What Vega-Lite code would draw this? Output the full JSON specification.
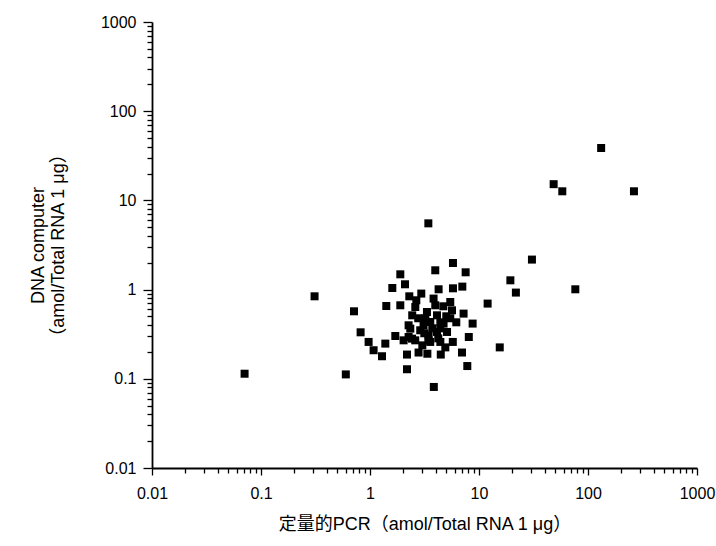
{
  "$schema": "https://vega.github.io/schema/vega-lite/v6.json",
  "autosize": {"type": "none"},
  "padding": {"left": 152, "top": 22, "right": 19, "bottom": 78},
  "width": 545,
  "height": 446,
  "background": "white",
  "config": {"view": {"stroke": null}},
  "data": {"values": [
    {"pcr": 0.0707, "dna": 0.114}, {"pcr": 0.31, "dna": 0.841}, {"pcr": 0.6, "dna": 0.112},
    {"pcr": 0.713, "dna": 0.571}, {"pcr": 0.82, "dna": 0.332}, {"pcr": 0.971, "dna": 0.259},
    {"pcr": 1.079, "dna": 0.209}, {"pcr": 1.288, "dna": 0.179}, {"pcr": 1.382, "dna": 0.248},
    {"pcr": 1.411, "dna": 0.655}, {"pcr": 1.602, "dna": 1.042}, {"pcr": 1.897, "dna": 1.484},
    {"pcr": 2.095, "dna": 1.147}, {"pcr": 3.97, "dna": 1.646}, {"pcr": 5.77, "dna": 1.987},
    {"pcr": 7.54, "dna": 1.563}, {"pcr": 7.03, "dna": 1.08}, {"pcr": 5.77, "dna": 1.034},
    {"pcr": 4.26, "dna": 1.008}, {"pcr": 2.955, "dna": 0.902}, {"pcr": 2.294, "dna": 0.841},
    {"pcr": 1.897, "dna": 0.667}, {"pcr": 2.604, "dna": 0.638}, {"pcr": 3.83, "dna": 0.793},
    {"pcr": 5.45, "dna": 0.726}, {"pcr": 5.65, "dna": 0.586}, {"pcr": 7.22, "dna": 0.538},
    {"pcr": 8.74, "dna": 0.416}, {"pcr": 3.33, "dna": 0.561}, {"pcr": 4.12, "dna": 0.515},
    {"pcr": 3.57, "dna": 0.433}, {"pcr": 4.73, "dna": 0.416}, {"pcr": 3.1, "dna": 0.398},
    {"pcr": 4.12, "dna": 0.335}, {"pcr": 5.09, "dna": 0.335}, {"pcr": 3.45, "dna": 0.307},
    {"pcr": 2.26, "dna": 0.398}, {"pcr": 2.26, "dna": 0.294}, {"pcr": 1.707, "dna": 0.302},
    {"pcr": 2.034, "dna": 0.27}, {"pcr": 2.343, "dna": 0.365}, {"pcr": 2.428, "dna": 0.282},
    {"pcr": 3.57, "dna": 0.259}, {"pcr": 4.42, "dna": 0.259}, {"pcr": 5.75, "dna": 0.259},
    {"pcr": 8.06, "dna": 0.294}, {"pcr": 2.185, "dna": 0.187}, {"pcr": 2.79, "dna": 0.197},
    {"pcr": 3.36, "dna": 0.191}, {"pcr": 4.46, "dna": 0.187}, {"pcr": 6.98, "dna": 0.197},
    {"pcr": 7.81, "dna": 0.139}, {"pcr": 2.185, "dna": 0.128}, {"pcr": 3.85, "dna": 0.081},
    {"pcr": 15.5, "dna": 0.225}, {"pcr": 12.0, "dna": 0.697}, {"pcr": 19.4, "dna": 1.271},
    {"pcr": 21.8, "dna": 0.926}, {"pcr": 30.6, "dna": 2.17}, {"pcr": 76.5, "dna": 1.008},
    {"pcr": 48.4, "dna": 15.2}, {"pcr": 58.1, "dna": 12.65}, {"pcr": 132, "dna": 38.7},
    {"pcr": 264, "dna": 12.65}, {"pcr": 3.43, "dna": 5.53},
    {"pcr": 2.77, "dna": 0.477}, {"pcr": 3.22, "dna": 0.477}, {"pcr": 3.73, "dna": 0.368},
    {"pcr": 2.89, "dna": 0.35}, {"pcr": 4.42, "dna": 0.43}, {"pcr": 5.01, "dna": 0.502},
    {"pcr": 2.6, "dna": 0.27}, {"pcr": 3.02, "dna": 0.237}, {"pcr": 4.91, "dna": 0.225},
    {"pcr": 2.44, "dna": 0.515}, {"pcr": 6.19, "dna": 0.43}, {"pcr": 5.45, "dna": 0.477},
    {"pcr": 3.97, "dna": 0.667}, {"pcr": 4.71, "dna": 0.65}, {"pcr": 2.66, "dna": 0.759},
    {"pcr": 3.43, "dna": 0.27}, {"pcr": 4.23, "dna": 0.284}, {"pcr": 3.15, "dna": 0.324},
    {"pcr": 4.42, "dna": 0.368}
  ]},
  "mark": {"type": "point", "shape": "square", "filled": true, "size": 64, "color": "#000000", "opacity": 1},
  "encoding": {
    "x": {
      "field": "pcr", "type": "quantitative",
      "scale": {"type": "log", "domain": [0.01, 1000], "nice": false},
      "axis": {
        "title": "定量的PCR（amol/Total RNA 1 μg）",
        "titleFont": "Liberation Sans, Noto Sans CJK JP",
        "titleFontSize": 18, "titleFontWeight": "normal", "titleColor": "#000000",
        "titlePadding": 14,
        "values": [0.01,0.02,0.03,0.04,0.05,0.06,0.07,0.08,0.09,0.1,0.2,0.3,0.4,0.5,0.6,0.7,0.8,0.9,1,2,3,4,5,6,7,8,9,10,20,30,40,50,60,70,80,90,100,200,300,400,500,600,700,800,900,1000],
        "format": "~g",
        "labelExpr": "abs(log(datum.value)/LN10 - round(log(datum.value)/LN10)) < 1e-6 ? datum.label : ''",
        "labelFont": "Liberation Sans", "labelFontSize": 16, "labelColor": "#000000",
        "labelPadding": 10, "labelFlush": false, "labelOverlap": false,
        "tickSize": {"condition": {"test": "abs(log(datum.value)/LN10 - round(log(datum.value)/LN10)) < 1e-6", "value": 7}, "value": 5},
        "tickColor": "#000000", "tickWidth": 1.3,
        "domainColor": "#000000", "domainWidth": 1.8,
        "grid": false
      }
    },
    "y": {
      "field": "dna", "type": "quantitative",
      "scale": {"type": "log", "domain": [0.01, 1000], "nice": false},
      "axis": {
        "title": ["DNA computer", "（amol/Total RNA 1 μg）"],
        "titleFont": "Liberation Sans, Noto Sans CJK JP",
        "titleFontSize": 18, "titleFontWeight": "normal", "titleColor": "#000000",
        "titleLineHeight": 20,
        "titlePadding": 33,
        "values": [0.01,0.02,0.03,0.04,0.05,0.06,0.07,0.08,0.09,0.1,0.2,0.3,0.4,0.5,0.6,0.7,0.8,0.9,1,2,3,4,5,6,7,8,9,10,20,30,40,50,60,70,80,90,100,200,300,400,500,600,700,800,900,1000],
        "format": "~g",
        "labelExpr": "abs(log(datum.value)/LN10 - round(log(datum.value)/LN10)) < 1e-6 ? datum.label : ''",
        "labelFont": "Liberation Sans", "labelFontSize": 16, "labelColor": "#000000",
        "labelPadding": 7, "labelFlush": false, "labelOverlap": false,
        "tickSize": {"condition": {"test": "abs(log(datum.value)/LN10 - round(log(datum.value)/LN10)) < 1e-6", "value": 9}, "value": 5},
        "tickColor": "#000000", "tickWidth": 1.3,
        "domainColor": "#000000", "domainWidth": 1.8,
        "grid": false
      }
    }
  }
}
